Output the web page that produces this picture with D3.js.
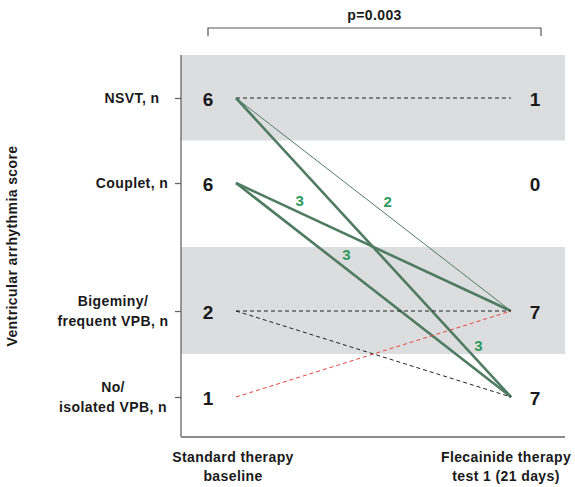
<!DOCTYPE html>
<html>
<head>
<meta charset="utf-8">
<script src="https://cdn.jsdelivr.net/npm/d3@7"></script>
<style>
  body { margin: 0; background: #fff; }
  text { font-family: "Liberation Sans", Arial, sans-serif; font-weight: bold; fill: #1a1a1a; }
  .lab { font-size: 14px; letter-spacing: 0.4px; }
</style>
</head>
<body>
<script>
// categories, from highest score (3) to lowest (0)
var categories = [
  { score: 3, label: ["NSVT, n"] },
  { score: 2, label: ["Couplet, n"] },
  { score: 1, label: ["Bigeminy/", "frequent VPB, n"] },
  { score: 0, label: ["No/", "isolated VPB, n"] }
];
var baselineCounts = [6, 6, 2, 1];   // by category order above
var flecainideCounts = [1, 0, 7, 7];
var timePoints = ["Standard therapy|baseline", "Flecainide therapy|test 1 (21 days)"];
var pValue = "p=0.003";

// patient transitions (score before -> score after), n patients
var transitions = [
  { from: 3, to: 3, n: 1, kind: "same" },
  { from: 3, to: 1, n: 2, kind: "better", labelT: 0.53 },
  { from: 3, to: 0, n: 3, kind: "better", labelT: 0.86 },
  { from: 2, to: 1, n: 3, kind: "better", labelT: 0.21 },
  { from: 2, to: 0, n: 3, kind: "better", labelT: 0.38 },
  { from: 1, to: 1, n: 1, kind: "same" },
  { from: 1, to: 0, n: 1, kind: "same" },
  { from: 0, to: 1, n: 1, kind: "worse" }
];

var width = 575, height = 487;
var plotLeft = 181, plotRight = 565, plotTop = 55, plotBottom = 437;

var svg = d3.select("body").append("svg")
  .attr("width", width)
  .attr("height", height);

// y: score -> pixel (rows are not evenly spaced in the original)
var y = d3.scaleLinear()
  .domain([3.5, 3, 2, 1, 0, -0.5])
  .range([plotTop, 98, 183, 311, 397, plotBottom]);

var x = d3.scalePoint()
  .domain(timePoints)
  .range([236, 511]);

//---------------------------------- background bands ----------------------------------//
var bands = [[3.5, 2.5], [1.5, 0.5]];
svg.append("g").selectAll("rect")
  .data(bands)
  .enter()
  .append("rect")
  .attr("x", plotLeft)
  .attr("width", plotRight - plotLeft)
  .attr("y", function (d) { return y(d[0]); })
  .attr("height", function (d) { return y(d[1]) - y(d[0]); })
  .style("fill", "#dcdddf");

//---------------------------------- axes ----------------------------------//
var yAxis = d3.axisLeft(y)
  .tickValues(categories.map(function (c) { return c.score; }))
  .tickSize(6)
  .tickFormat("");

var gy = svg.append("g")
  .attr("transform", "translate(" + plotLeft + ",0)")
  .call(yAxis);
gy.select(".domain").attr("d", "M0," + plotTop + "V" + plotBottom);
gy.selectAll("line, path").style("stroke", "#666").style("stroke-width", 1.3);

svg.append("line")
  .attr("x1", plotLeft).attr("x2", plotRight)
  .attr("y1", plotBottom).attr("y2", plotBottom)
  .style("stroke", "#666").style("stroke-width", 1.5);

// category labels
var catLabel = svg.append("g").selectAll("text")
  .data(categories)
  .enter()
  .append("text")
  .attr("class", "lab")
  .attr("text-anchor", "middle")
  .attr("transform", function (d) {
    var cx = d.label.length > 1 ? 113 : 132;
    var cy = y(d.score) + 5 - (d.label.length - 1) * 10;
    return "translate(" + cx + "," + cy + ")";
  });
catLabel.selectAll("tspan")
  .data(function (d) { return d.label; })
  .enter()
  .append("tspan")
  .attr("x", 0)
  .attr("dy", function (d, i) { return i ? 20 : 0; })
  .text(function (d) { return d; });

// y title
svg.append("text")
  .attr("class", "lab")
  .attr("transform", "translate(17," + ((plotTop + plotBottom) / 2) + ") rotate(-90)")
  .attr("text-anchor", "middle")
  .text("Ventricular arrhythmia score");

// x labels
var xLabel = svg.append("g").selectAll("text")
  .data(timePoints)
  .enter()
  .append("text")
  .attr("class", "lab")
  .attr("text-anchor", "middle")
  .attr("transform", function (d, i) {
    return "translate(" + (x(d) + (i ? -5 : -3)) + ",462)";
  });
xLabel.selectAll("tspan")
  .data(function (d) { return d.split("|"); })
  .enter()
  .append("tspan")
  .attr("x", 0)
  .attr("dy", function (d, i) { return i ? 19 : 0; })
  .text(function (d) { return d; });

//---------------------------------- transition lines ----------------------------------//
var styles = {
  same: { stroke: "#222", dash: "4,3" },
  worse: { stroke: "#e8453c", dash: "4,3" },
  better: { stroke: "#4f7c60", dash: null }
};

svg.append("g").selectAll("line")
  .data(transitions)
  .enter()
  .append("line")
  .attr("x1", x(timePoints[0]))
  .attr("x2", x(timePoints[1]))
  .attr("y1", function (d) { return y(d.from); })
  .attr("y2", function (d) { return y(d.to); })
  .style("stroke", function (d) { return styles[d.kind].stroke; })
  .style("stroke-dasharray", function (d) { return styles[d.kind].dash; })
  .style("stroke-width", function (d) {
    return d.kind === "better" ? (d.n >= 3 ? 2.6 : 1) : 1;
  });

// counts on green lines
svg.append("g").selectAll("text")
  .data(transitions.filter(function (d) { return d.labelT; }))
  .enter()
  .append("text")
  .attr("text-anchor", "middle")
  .attr("dominant-baseline", "middle")
  .style("font-size", "15px")
  .style("fill", "#2e9a5c")
  .attr("x", function (d) {
    return x(timePoints[0]) + d.labelT * (x(timePoints[1]) - x(timePoints[0])) + 6;
  })
  .attr("y", function (d) {
    return y(d.from) + d.labelT * (y(d.to) - y(d.from)) - 8;
  })
  .text(function (d) { return d.n; });

//---------------------------------- counts ----------------------------------//
function drawCounts(counts, cx) {
  svg.append("g").selectAll("text")
    .data(counts)
    .enter()
    .append("text")
    .attr("text-anchor", "middle")
    .attr("dominant-baseline", "central")
    .style("font-size", "19px")
    .attr("x", cx)
    .attr("y", function (d, i) { return y(categories[i].score) + 1; })
    .text(function (d) { return d; });
}
drawCounts(baselineCounts, x(timePoints[0]) - 28);
drawCounts(flecainideCounts, x(timePoints[1]) + 24);

//---------------------------------- p value bracket ----------------------------------//
var bx1 = x(timePoints[0]) - 28, bx2 = x(timePoints[1]) + 30;
svg.append("path")
  .attr("d", "M" + bx1 + ",36V28H" + bx2 + "V36")
  .style("fill", "none")
  .style("stroke", "#555")
  .style("stroke-width", 1.2);

svg.append("text")
  .attr("class", "lab")
  .attr("x", (bx1 + bx2) / 2)
  .attr("y", 20)
  .text(pValue)
  .attr("text-anchor", "middle");
</script>
</body>
</html>
